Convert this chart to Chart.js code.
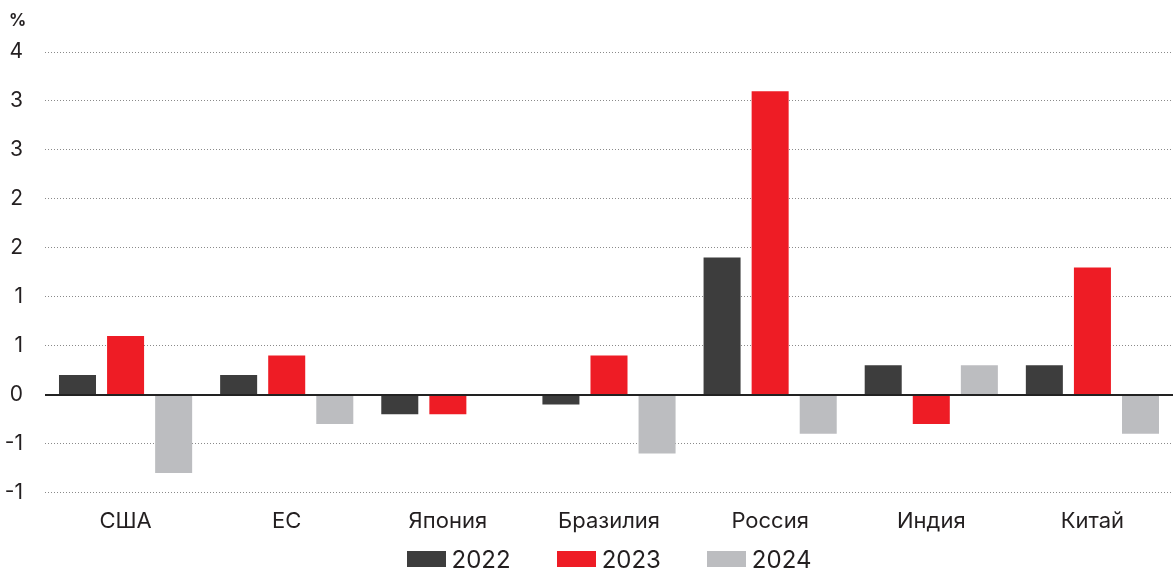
<!DOCTYPE html>
<html>
<head>
<meta charset="utf-8">
<script src="https://cdn.jsdelivr.net/npm/chart.js@4/dist/chart.umd.min.js"></script>
<style>
  html, body { margin: 0; padding: 0; background: #fff; }
  #wrap { width: 1173px; height: 573px; position: relative; }
</style>
</head>
<body>
<div id="wrap"><canvas id="c" width="1173" height="573"></canvas></div>
<script>
// Regions and yearly change, %
const categories = ['США', 'ЕС', 'Япония', 'Бразилия', 'Россия', 'Индия', 'Китай'];
const years = ['2022', '2023', '2024'];
const values2022 = [0.2, 0.2, -0.2, -0.1, 1.4, 0.3, 0.3];
const values2023 = [0.6, 0.4, -0.2, 0.4, 3.1, -0.3, 1.3];
const values2024 = [-0.8, -0.3, 0.0, -0.6, -0.4, 0.3, -0.4];
const colors = ['#3d3d3d', '#ee1c25', '#bcbdc0'];
const unitLabel = '%';

const FONT = 'Inter, "Noto Sans", sans-serif';
const TEXT = '#231f20';

// Solid baseline at zero, drawn over the bars
const zeroLine = {
  id: 'zeroLine',
  afterDatasetsDraw(chart) {
    const { ctx, chartArea, scales } = chart;
    const y = Math.round(scales.y.getPixelForValue(0));
    ctx.save();
    ctx.strokeStyle = '#222';
    ctx.lineWidth = 1.8;
    ctx.beginPath();
    ctx.moveTo(chartArea.left, y);
    ctx.lineTo(chartArea.right, y);
    ctx.stroke();
    ctx.restore();
  }
};

// Unit caption above the value axis
const unitCaption = {
  id: 'unitCaption',
  afterDraw(chart) {
    const { ctx } = chart;
    ctx.save();
    ctx.fillStyle = TEXT;
    ctx.font = 'bold 17px ' + FONT;
    ctx.textBaseline = 'middle';
    ctx.textAlign = 'left';
    ctx.fillText(unitLabel, 9, 21);
    ctx.restore();
  }
};

// Legend row under the category labels, centred on the plot
const yearLegend = {
  id: 'yearLegend',
  afterDraw(chart) {
    const { ctx, chartArea } = chart;
    const boxW = 39, boxH = 16, gapText = 6, gapItem = 46;
    const yMid = 560;
    ctx.save();
    ctx.font = '24px ' + FONT;
    ctx.textBaseline = 'middle';
    ctx.textAlign = 'left';
    const items = chart.data.datasets.map(ds => ({
      text: ds.label, color: ds.backgroundColor,
      w: boxW + gapText + ctx.measureText(ds.label).width
    }));
    const total = items.reduce((s, it) => s + it.w, 0) + gapItem * (items.length - 1);
    let x = (chartArea.left + chartArea.right) / 2 - total / 2;
    items.forEach(it => {
      ctx.fillStyle = it.color;
      ctx.fillRect(Math.round(x), yMid - boxH / 2 - 1, boxW, boxH);
      ctx.fillStyle = TEXT;
      ctx.fillText(it.text, x + boxW + gapText, yMid + 1);
      x += it.w + gapItem;
    });
    ctx.restore();
  }
};

new Chart(document.getElementById('c'), {
  type: 'bar',
  data: {
    labels: categories,
    datasets: [
      { label: years[0], data: values2022, backgroundColor: colors[0] },
      { label: years[1], data: values2023, backgroundColor: colors[1] },
      { label: years[2], data: values2024, backgroundColor: colors[2] }
    ]
  },
  options: {
    responsive: false,
    animation: false,
    layout: { padding: { top: 52, right: 0, left: 4, bottom: 30 } },
    datasets: {
      bar: { categoryPercentage: 0.895, barPercentage: 0.77 }
    },
    plugins: {
      legend: { display: false },
      tooltip: { enabled: false }
    },
    scales: {
      x: {
        grid: { display: false },
        border: { display: false },
        ticks: { color: TEXT, font: { family: FONT, size: 22 }, padding: 8 }
      },
      y: {
        min: -1,
        max: 3.5,
        afterFit(scale) { scale.width = 41; },
        grid: { color: '#8a8a8a', lineWidth: 1, drawTicks: false },
        border: { display: false, dash: [1, 2] },
        ticks: {
          stepSize: 0.5,
          padding: 22,
          color: TEXT,
          font: { family: FONT, size: 21 },
          callback: (v) => Number(v).toFixed(0)
        }
      }
    }
  },
  plugins: [zeroLine, unitCaption, yearLegend]
});
</script>
</body>
</html>
